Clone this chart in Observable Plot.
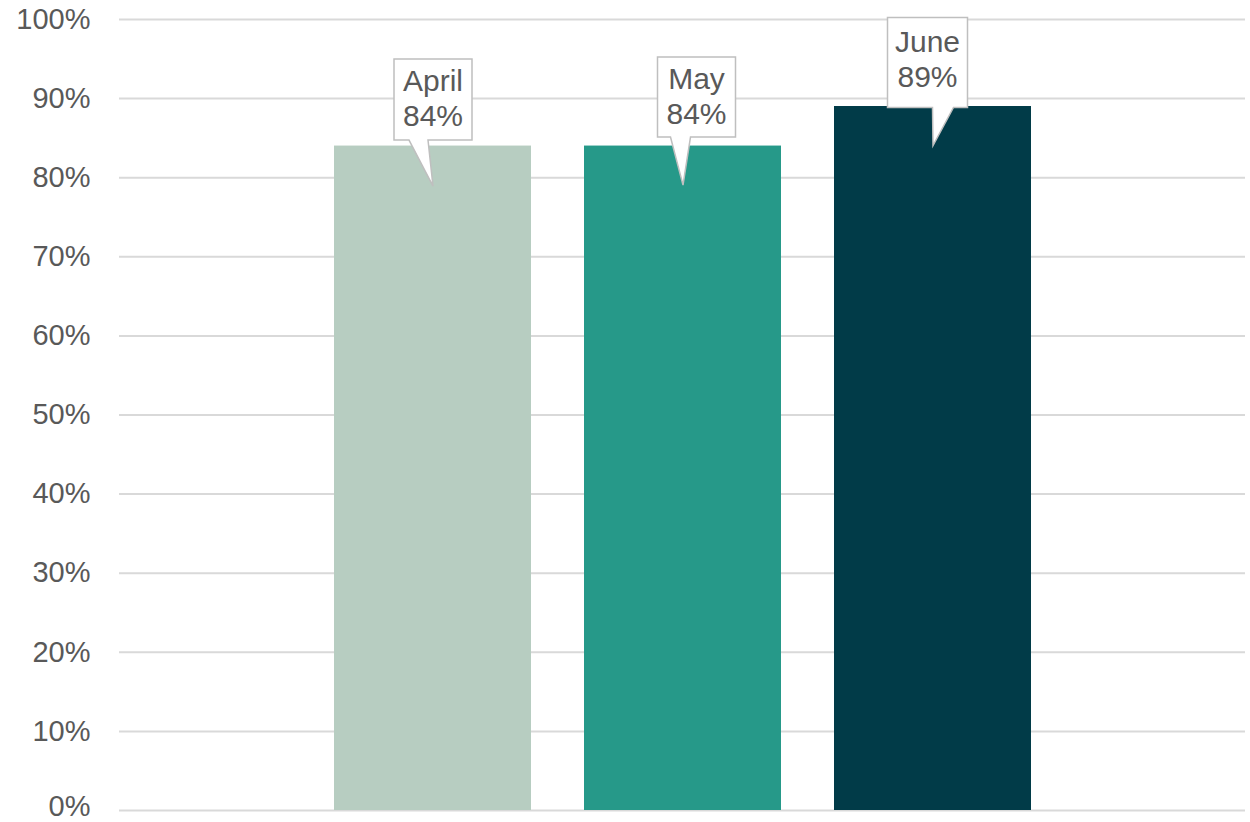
<!DOCTYPE html>
<html>
<head>
<meta charset="utf-8">
<script src="https://cdn.jsdelivr.net/npm/d3@7"></script>
<script src="https://cdn.jsdelivr.net/npm/@observablehq/plot@0.6"></script>
<style>
  html, body { margin: 0; padding: 0; background: #fff; }
</style>
</head>
<body>
<div id="chart"></div>
<script>
// ---- data ----
const months = ["April", "May", "June"];
const shares = [84, 84, 89];
const barColors = ["#b7cdc1", "#269989", "#013b48"];
const yTicks = [0, 10, 20, 30, 40, 50, 60, 70, 80, 90, 100];

const data = months.map((m, i) => ({month: m, share: shares[i]}));

// ---- callout layout (pixel offsets from bar top centre) ----
const calloutGeom = [
  {box: [-39, -87, 39, -6], tail: [-24, -5], tip: [0, 40], text: [0, -49]},
  {box: [-25.5, -89, 52.5, -9], tail: [-12.5, 7.5], tip: [0, 39], text: [13.5, -51]},
  {box: [-45.5, -89, 34.5, 1], tail: [-0.5, 20.5], tip: [0, 39], text: [-5.5, -48]}
];

function calloutSymbol(g) {
  return {
    draw(context) {
      const [x0, y0, x1, y1] = g.box;
      context.moveTo(x0, y0);
      context.lineTo(x1, y0);
      context.lineTo(x1, y1);
      context.lineTo(g.tail[1], y1);
      context.lineTo(g.tip[0], g.tip[1]);
      context.lineTo(g.tail[0], y1);
      context.lineTo(x0, y1);
      context.closePath();
    }
  };
}

const textColor = "#595959";

const calloutMarks = data.flatMap((d, i) => {
  const g = calloutGeom[i];
  return [
    Plot.dot([d], {
      x: "month", y: "share",
      symbol: calloutSymbol(g), r: 10,
      fill: "white", stroke: "#bfbfbf", strokeWidth: 1.5
    }),
    Plot.text([d], {
      x: "month", y: "share",
      text: v => `${v.month}\n${v.share}%`,
      dx: g.text[0], dy: g.text[1],
      lineAnchor: "middle", lineHeight: 1.17,
      fontSize: 30, fill: textColor
    })
  ];
});

const axisOpts = {
  tickSize: 0, tickPadding: 29, fontSize: 29, fill: textColor,
  tickFormat: d => d + "%", label: null
};

const chart = Plot.plot({
  width: 1250,
  height: 822,
  marginTop: 19,
  marginBottom: 12,
  marginLeft: 119,
  marginRight: 5,
  style: {fontFamily: "'Liberation Sans', Arial, sans-serif", background: "white"},
  x: {domain: months, paddingInner: 0.212, paddingOuter: 0.858, axis: null},
  y: {domain: [0, 100], axis: null},
  color: {domain: months, range: barColors},
  marks: [
    Plot.ruleY(yTicks, {stroke: "#d9d9d9", strokeWidth: 2}),
    Plot.barY(data, {x: "month", y: "share", fill: "month"}),
    Plot.axisY(yTicks.filter(t => t > 0), axisOpts),
    Plot.axisY(yTicks.filter(t => t === 0), {...axisOpts, dy: -4}),
    ...calloutMarks
  ]
});

document.getElementById("chart").appendChild(chart);
</script>
</body>
</html>
